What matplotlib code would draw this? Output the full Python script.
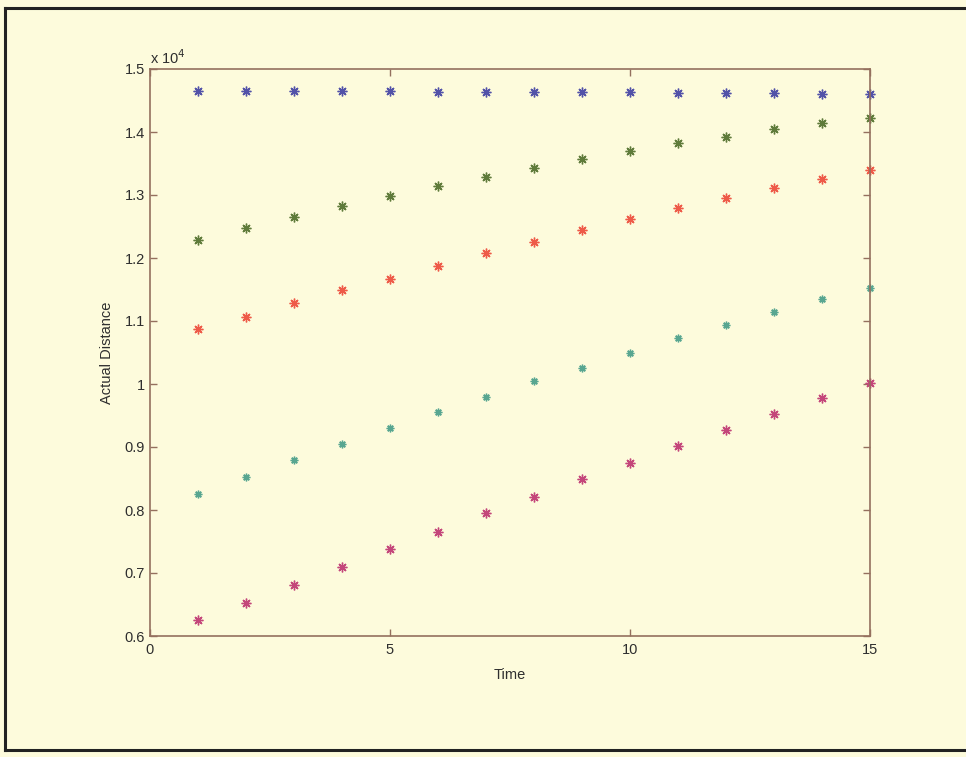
import matplotlib
matplotlib.use('Agg')
import matplotlib.pyplot as plt
from matplotlib.lines import Line2D
from matplotlib.ticker import FormatStrFormatter

# data (distance in units of 1e4)
time = list(range(1, 16))
blue = [1.4656, 1.4653, 1.4650, 1.4648, 1.4645, 1.4642, 1.4638, 1.4635,
        1.4632, 1.4629, 1.4625, 1.4620, 1.4615, 1.4610, 1.4603]
olive = [1.2286, 1.2476, 1.2656, 1.2825, 1.2990, 1.3143, 1.3290, 1.3433,
         1.3566, 1.3700, 1.3820, 1.3926, 1.4043, 1.4148, 1.4227]
red = [1.0868, 1.1069, 1.1280, 1.1492, 1.1667, 1.1878, 1.2074, 1.2249,
       1.2444, 1.2624, 1.2788, 1.2958, 1.3116, 1.3254, 1.3397]
teal = [0.8254, 0.8530, 0.8789, 0.9048, 0.9307, 0.9550, 0.9799, 1.0048,
        1.0254, 1.0487, 1.0725, 1.0942, 1.1138, 1.1344, 1.1519]
magenta = [0.6254, 0.6529, 0.6810, 0.7100, 0.7386, 0.7656, 0.7957, 0.8211,
           0.8492, 0.8746, 0.9020, 0.9270, 0.9519, 0.9773, 1.0011]

series = [(blue, '#5252a8', 7), (olive, '#5f7b3a', 7), (red, '#ee5a48', 7),
          (teal, '#58a690', 5.5), (magenta, '#c4467a', 7)]

bg = '#fdfbdc'
axcol = '#94705e'
txt = '#2e2e2e'
plt.rcParams['font.family'] = ['Liberation Sans', 'DejaVu Sans']

fig = plt.figure(figsize=(9.66, 7.57), dpi=100, facecolor=bg)
ax = fig.add_axes([150/966, 121/757, 720/966, 567/757], facecolor=bg)

for vals, c, ms in series:
    ax.plot(time, vals, linestyle='none', marker=(8, 2, 0), markersize=ms,
            markeredgewidth=1.0, color=c, clip_on=False)

ax.set_xlim(0, 15)
ax.set_ylim(0.6, 1.5)
ax.set_xticks([0, 5, 10, 15])
ax.set_yticks([0.6, 0.7, 0.8, 0.9, 1.0, 1.1, 1.2, 1.3, 1.4, 1.5])
ax.yaxis.set_major_formatter(FormatStrFormatter('%g'))
ax.tick_params(direction='in', length=5, width=1, color=axcol,
               labelcolor=txt, labelsize=10.5, top=True, right=True)
ax.tick_params(axis='x', pad=5)
for s in ax.spines.values():
    s.set_color(axcol)
    s.set_linewidth(1.2)

ax.set_xlabel('Time', fontsize=10.5, color=txt, labelpad=8)
ax.set_ylabel('Actual Distance', fontsize=10.5, color=txt, labelpad=8)
ax.text(0, 1.003, r'x 10$^4$', transform=ax.transAxes, fontsize=10.5,
        color=txt, ha='left', va='bottom')

# scanned frame
fig.add_artist(Line2D([5/966, 1], [749/757, 749/757], color='#222222', lw=2.2))
fig.add_artist(Line2D([5/966, 1], [7/757, 7/757], color='#222222', lw=2.2))
fig.add_artist(Line2D([5/966, 5/966], [7/757, 749/757], color='#222222', lw=2.2))

fig.savefig('out.png', dpi=100, facecolor=bg)
